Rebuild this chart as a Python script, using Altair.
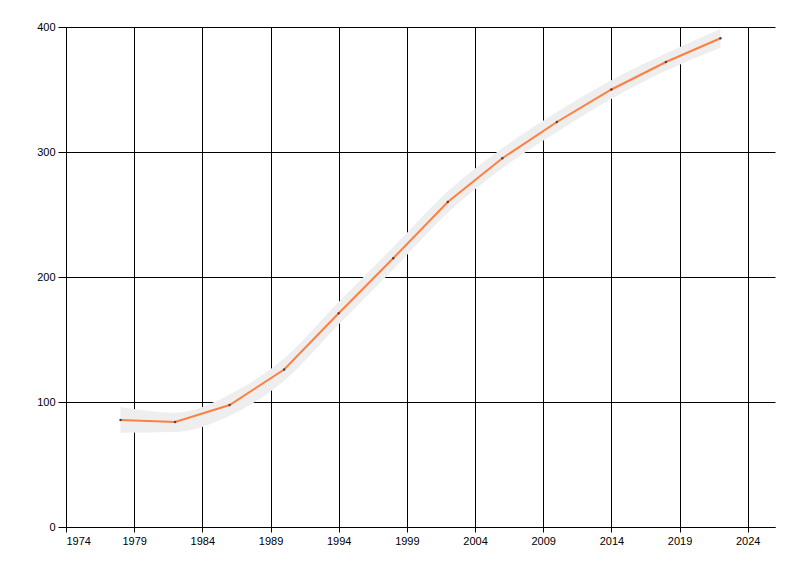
import altair as alt
import pandas as pd

years = [1978, 1982, 1986, 1990, 1994, 1998, 2002, 2006, 2010, 2014, 2018, 2022]
values = [85.6, 84.0, 97.6, 126.0, 171.0, 215.0, 260.0, 295.0, 324.0, 350.0, 372.0, 391.0]
upper = [96.0, 91.5, 106.0, 135.0, 180.0, 224.0, 268.5, 303.0, 332.0, 357.5, 379.0, 398.5]
lower = [75.5, 76.0, 89.0, 117.0, 162.0, 206.0, 251.5, 287.0, 316.0, 342.5, 365.0, 383.5]
x_ticks = [1974, 1979, 1984, 1989, 1994, 1999, 2004, 2009, 2014, 2019, 2024]
y_ticks = [0, 100, 200, 300, 400]

df = pd.DataFrame({"year": years, "value": values, "upper": upper, "lower": lower})

xs = alt.Scale(domain=[1974, 2026], nice=False, zero=False)
ys = alt.Scale(domain=[0, 400], nice=False)

xaxis = alt.Axis(values=x_ticks, format="d", title=None, grid=True, gridColor="black",
                 gridOpacity=1, gridWidth=1, domainColor="black", tickColor="black",
                 tickSize=5, labelFont="Liberation Sans", labelFontSize=11,
                 labelColor="black", labelPadding=3)
yaxis = alt.Axis(values=y_ticks, title=None, grid=True, gridColor="black",
                 gridOpacity=1, gridWidth=1, domainColor="black", tickColor="black",
                 tickSize=8, labelFont="Liberation Sans", labelFontSize=11,
                 labelColor="black", labelPadding=3)

base = alt.Chart(df)

band = base.mark_area(color="#EEEEEE", opacity=1, interpolate="monotone").encode(
    x=alt.X("year:Q", scale=xs, axis=xaxis),
    y=alt.Y("upper:Q", scale=ys, axis=yaxis),
    y2="lower:Q",
)

line = base.mark_line(color="#FF7F40", strokeWidth=2).encode(
    x=alt.X("year:Q", scale=xs),
    y=alt.Y("value:Q", scale=ys),
)

pts = base.mark_point(filled=True, color="#444444", size=6, opacity=1).encode(
    x=alt.X("year:Q", scale=xs),
    y=alt.Y("value:Q", scale=ys),
)

chart = alt.layer(band, line, pts).properties(
    width=709, height=500, autosize="none",
    padding={"left": 58, "top": 19, "right": 17, "bottom": 41},
).configure_view(stroke=None)

chart.save("out.html", embed_options={"renderer": "svg", "actions": False})
